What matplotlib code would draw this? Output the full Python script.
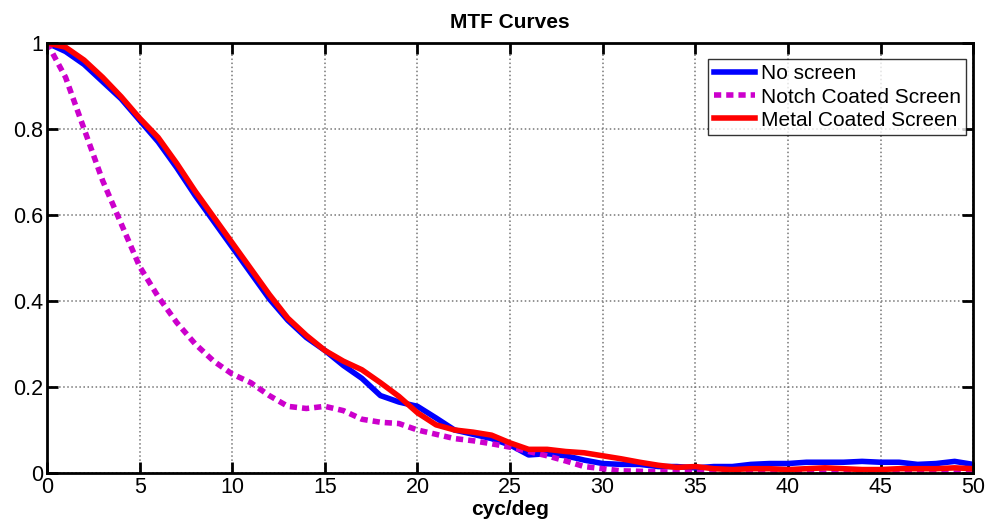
import matplotlib.pyplot as plt
import numpy as np

freq = list(range(0, 51))
no_screen = [1.0, 0.98, 0.95, 0.91, 0.87, 0.82, 0.77, 0.71, 0.645, 0.585, 0.525,
             0.465, 0.405, 0.355, 0.315, 0.285, 0.25, 0.22, 0.18, 0.165, 0.155,
             0.128, 0.10, 0.09, 0.08, 0.065, 0.042, 0.045, 0.04, 0.03, 0.022,
             0.02, 0.02, 0.015, 0.015, 0.012, 0.015, 0.015, 0.02, 0.022, 0.022,
             0.025, 0.025, 0.025, 0.027, 0.025, 0.025, 0.02, 0.022, 0.027, 0.02]
notch = [1.0, 0.92, 0.80, 0.68, 0.58, 0.48, 0.41, 0.35, 0.30, 0.26, 0.23,
         0.21, 0.18, 0.155, 0.15, 0.155, 0.145, 0.125, 0.118, 0.115, 0.10,
         0.09, 0.08, 0.075, 0.068, 0.06, 0.05, 0.04, 0.028, 0.015, 0.01,
         0.005, 0.004, 0.003, 0.002, 0.001, 0.0, 0.0, 0.0, 0.0, 0.0,
         0.0, 0.0, 0.0, 0.0, 0.0, 0.0, 0.0, 0.0, 0.0, 0.0]
metal = [1.0, 0.99, 0.96, 0.92, 0.875, 0.825, 0.78, 0.72, 0.655, 0.595, 0.535,
         0.475, 0.415, 0.36, 0.32, 0.285, 0.26, 0.24, 0.21, 0.178, 0.14,
         0.112, 0.10, 0.095, 0.088, 0.07, 0.055, 0.055, 0.05, 0.047, 0.04,
         0.033, 0.025, 0.018, 0.013, 0.015, 0.01, 0.008, 0.01, 0.01, 0.008,
         0.01, 0.012, 0.01, 0.008, 0.008, 0.01, 0.01, 0.01, 0.012, 0.01]

plt.rcParams['font.family'] = 'Liberation Sans'
fig = plt.figure(figsize=(9.9, 5.23), dpi=100)
ax = fig.add_axes([0.0475, 0.0956, 0.9355, 0.8224])

ax.plot(freq, no_screen, color='blue', lw=4, label='No screen', solid_joinstyle='round')
ax.plot(freq, notch, color='#cc00cc', lw=4, ls=(0, (1.3, 0.9)), label='Notch Coated Screen')
ax.plot(freq, metal, color='red', lw=4, label='Metal Coated Screen', solid_joinstyle='round')

ax.set_xlim(0, 50)
ax.set_ylim(0, 1)
ax.set_xticks(range(0, 51, 5))
ax.set_yticks([0, 0.2, 0.4, 0.6, 0.8, 1])
ax.set_yticklabels(['0', '0.2', '0.4', '0.6', '0.8', '1'])
ax.tick_params(direction='in', top=True, right=True, length=8, width=2, labelsize=15.5, pad=3)
for s in ax.spines.values():
    s.set_linewidth(2)
ax.grid(True, color='#777777', ls=':', lw=1.1)
ax.set_title('MTF Curves', fontsize=15, fontweight='bold', pad=11)
ax.set_xlabel('cyc/deg', fontsize=15, fontweight='bold', labelpad=1)
leg = ax.legend(loc='upper right', bbox_to_anchor=(0.992, 0.962), fontsize=15,
                fancybox=False, edgecolor='black', handlelength=2.0, borderaxespad=0,
                labelspacing=0.2, borderpad=0.25, handletextpad=0.25)
leg.get_frame().set_linewidth(1)

fig.savefig('out.png', dpi=100)
